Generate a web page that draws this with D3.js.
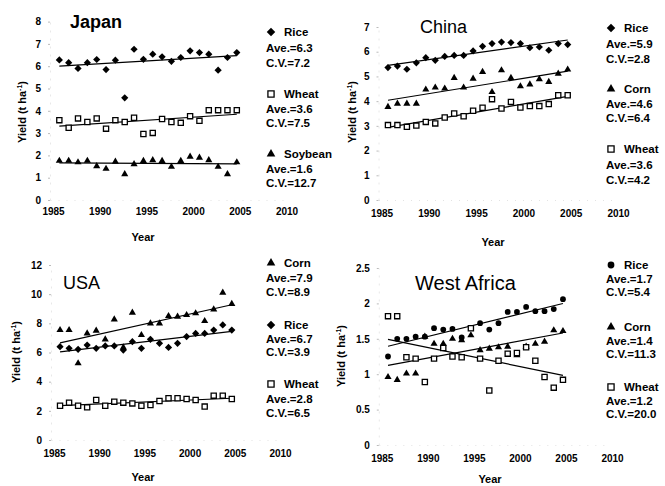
<!DOCTYPE html>
<html>
<head>
<meta charset="utf-8">
<script src="https://cdn.jsdelivr.net/npm/d3@7"></script>
<style>
  body { margin: 0; background: #fff; }
  text { font-family: "Liberation Sans", Arial, sans-serif; fill: #000; }
</style>
</head>
<body>
<svg id="chart" width="665" height="486"></svg>
<script>
// Crop yields (t/ha), 1986–2005
const years = [1986, 1987, 1988, 1989, 1990, 1991, 1992, 1993, 1994, 1995,
               1996, 1997, 1998, 1999, 2000, 2001, 2002, 2003, 2004, 2005];

const japanRice    = [6.28, 6.16, 5.90, 6.16, 6.30, 5.85, 6.27, 4.58, 6.76, 6.31,
                      6.54, 6.42, 6.22, 6.39, 6.69, 6.61, 6.54, 5.82, 6.39, 6.61];
const japanWheat   = [3.58, 3.24, 3.66, 3.50, 3.66, 3.20, 3.58, 3.50, 3.69, 2.96,
                      3.01, 3.63, 3.50, 3.46, 3.76, 3.55, 4.03, 4.03, 4.03, 4.03];
const japanSoybean = [1.76, 1.76, 1.69, 1.76, 1.52, 1.40, 1.72, 1.16, 1.61, 1.75,
                      1.79, 1.75, 1.49, 1.75, 1.94, 1.90, 1.79, 1.49, 1.16, 1.69];

const chinaRice  = [5.36, 5.42, 5.29, 5.55, 5.76, 5.65, 5.81, 5.85, 5.85, 6.03,
                    6.22, 6.33, 6.39, 6.37, 6.33, 6.16, 6.19, 6.06, 6.33, 6.29];
const chinaCorn  = [3.77, 3.90, 3.90, 3.90, 4.47, 4.55, 4.51, 4.94, 4.55, 4.91,
                    5.18, 4.37, 5.25, 4.94, 4.60, 4.68, 4.89, 4.78, 5.11, 5.28];
const chinaWheat = [3.03, 3.03, 2.96, 3.01, 3.16, 3.10, 3.34, 3.50, 3.39, 3.61,
                    3.73, 4.08, 3.70, 3.97, 3.74, 3.80, 3.80, 3.88, 4.24, 4.24];

const usaCorn  = [7.54, 7.54, 5.26, 7.31, 7.50, 6.90, 8.27, 6.35, 8.73, 7.20,
                  8.00, 8.00, 8.50, 8.46, 8.57, 8.69, 8.16, 8.96, 10.10, 9.33];
const usaRice  = [6.40, 6.29, 6.22, 6.51, 6.29, 6.45, 6.45, 6.17, 6.74, 6.29,
                  6.90, 6.63, 6.35, 6.63, 7.09, 7.31, 7.31, 7.54, 7.89, 7.54];
const usaWheat = [2.35, 2.56, 2.35, 2.24, 2.74, 2.35, 2.63, 2.56, 2.51, 2.35,
                  2.40, 2.67, 2.86, 2.86, 2.81, 2.74, 2.29, 3.04, 3.04, 2.81];

const waRice  = [1.25, 1.50, 1.50, 1.53, 1.53, 1.65, 1.63, 1.64, 1.52, 1.65,
                 1.72, 1.63, 1.72, 1.88, 1.88, 1.95, 1.89, 1.89, 1.92, 2.06];
const waCorn  = [0.96, 0.92, 1.01, 1.01, 1.53, 1.43, 1.43, 1.50, 1.48, 1.55,
                 1.34, 1.36, 1.38, 1.39, 1.27, 1.39, 1.43, 1.46, 1.62, 1.61];
const waWheat = [1.82, 1.82, 1.24, 1.22, 0.89, 1.22, 1.37, 1.25, 1.24, 1.65,
                 1.22, 0.77, 1.19, 1.29, 1.30, 1.38, 1.19, 0.96, 0.81, 0.92];

// Axis ticks
const xTicks = [1985, 1990, 1995, 2000, 2005, 2010];
const japanYTicks = [0, 1, 2, 3, 4, 5, 6, 7, 8];
const chinaYTicks = [0, 1, 2, 3, 4, 5, 6, 7];
const usaYTicks   = [0, 2, 4, 6, 8, 10, 12];
const waYTicks    = [0, 0.5, 1, 1.5, 2, 2.5];

// Legend statistics
const japanStats = [["Rice", "6.3", "7.2"], ["Wheat", "3.6", "7.5"], ["Soybean", "1.6", "12.7"]];
const chinaStats = [["Rice", "5.9", "2.8"], ["Corn", "4.6", "6.4"], ["Wheat", "3.6", "4.2"]];
const usaStats   = [["Corn", "7.9", "8.9"], ["Rice", "6.7", "3.9"], ["Wheat", "2.8", "6.5"]];
const waStats    = [["Rice", "1.7", "5.4"], ["Corn", "1.4", "11.3"], ["Wheat", "1.2", "20.0"]];

// Panel layout
const panels = [
  { title: "Japan", titleX: 70, titleY: 28, titleSize: 18, titleWeight: "bold",
    xr: [50, 283.5], yr: [200, 21.6], yMax: 8, yTicks: japanYTicks,
    series: [{ v: japanRice, m: "diamond" }, { v: japanWheat, m: "square" }, { v: japanSoybean, m: "triangle" }],
    stats: japanStats, legX: 266, legY: [32, 94, 154], gap: [16, 15, 15],
    xLabY: 219, yearX: 143, yearY: 241, ylabX: 26, ylabY: 112 },
  { title: "China", titleX: 420, titleY: 33, titleSize: 18, titleWeight: "normal",
    xr: [378.5, 615], yr: [200, 27], yMax: 7, yTicks: chinaYTicks,
    series: [{ v: chinaRice, m: "diamond" }, { v: chinaCorn, m: "triangle" }, { v: chinaWheat, m: "square" }],
    stats: chinaStats, legX: 606, legY: [28, 89, 149], gap: [16, 15, 16],
    xLabY: 221, yearX: 493, yearY: 246, ylabX: 356, ylabY: 112 },
  { title: "USA", titleX: 63, titleY: 289, titleSize: 18, titleWeight: "normal",
    xr: [51, 277], yr: [440, 265], yMax: 12, yTicks: usaYTicks,
    series: [{ v: usaCorn, m: "triangle" }, { v: usaRice, m: "diamond" }, { v: usaWheat, m: "square" }],
    stats: usaStats, legX: 266, legY: [263, 325, 384], gap: [15, 14, 15],
    xLabY: 461, yearX: 143, yearY: 481, ylabX: 20, ylabY: 352 },
  { title: "West Africa", titleX: 415, titleY: 290, titleSize: 20, titleWeight: "normal",
    xr: [378.8, 609], yr: [445, 268], yMax: 2.5, yTicks: waYTicks,
    series: [{ v: waRice, m: "circle" }, { v: waCorn, m: "triangle" }, { v: waWheat, m: "square" }],
    stats: waStats, legX: 606, legY: [265, 327, 387], gap: [14, 14, 14],
    xLabY: 466, yearX: 490, yearY: 483, ylabX: 345, ylabY: 356 }
];

const svg = d3.select("#chart");

function markerPath(m, size) {
  if (m === "diamond" || m === "square") return d3.symbol(d3.symbolSquare, size)();
  if (m === "triangle") return d3.symbol(d3.symbolTriangle, size)();
  return d3.symbol(d3.symbolCircle, size)();
}

function drawMarker(g, m, x, y, big) {
  const sizes = big ? { diamond: 36, square: 38, triangle: 32, circle: 36 }
                    : { diamond: 26, square: 27, triangle: 22, circle: 26 };
  const p = g.append("path")
    .attr("d", markerPath(m, sizes[m]))
    .attr("transform", `translate(${x},${y})` + (m === "diamond" ? " rotate(45)" : ""));
  if (m === "square") p.attr("fill", "#fff").attr("stroke", "#000").attr("stroke-width", 1.3);
  else p.attr("fill", "#000");
}

function linearFit(xs, ys) {
  const mx = d3.mean(xs), my = d3.mean(ys);
  let sxy = 0, sxx = 0;
  xs.forEach((x, i) => { sxy += (x - mx) * (ys[i] - my); sxx += (x - mx) * (x - mx); });
  const b = sxy / sxx;
  return x => my + b * (x - mx);
}

panels.forEach(p => {
  const x = d3.scaleLinear().domain([1985, 2010]).range(p.xr);
  const y = d3.scaleLinear().domain([0, p.yMax]).range(p.yr);
  const g = svg.append("g");

  // Very faint dotted axes
  const ax = g.append("g")
    .attr("transform", `translate(${p.xr[0]},0)`)
    .call(d3.axisLeft(y).tickValues(p.yTicks).tickSize(2).tickSizeOuter(0).tickFormat(d => String(d)));
  ax.select(".domain").attr("stroke", "#e2e2e2").attr("stroke-dasharray", "2,6").attr("stroke-width", 0.8);
  ax.selectAll(".tick line").attr("stroke", "#aaa").attr("stroke-width", 0.8);
  ax.selectAll(".tick text")
    .attr("x", -9)
    .style("font-family", "'Liberation Sans', Arial, sans-serif")
    .style("font-size", "10px").style("font-weight", "bold").attr("fill", "#000");

  const bx = g.append("g")
    .attr("transform", `translate(0,${p.yr[0]})`)
    .call(d3.axisBottom(x).tickValues(xTicks).tickSize(0).tickFormat(d3.format("d")));
  bx.select(".domain").attr("stroke", "#dcdcdc").attr("stroke-dasharray", "1,7").attr("stroke-width", 0.8);
  bx.selectAll(".tick text")
    .attr("y", p.xLabY - p.yr[0] - 4).attr("dy", 0).attr("dx", 3)
    .style("font-family", "'Liberation Sans', Arial, sans-serif")
    .style("font-size", "10px").style("font-weight", "bold").attr("fill", "#000");

  // Axis titles
  g.append("text").attr("x", p.yearX).attr("y", p.yearY).attr("text-anchor", "middle")
    .style("font-size", "11px").style("font-weight", "bold").text("Year");
  const yl = g.append("text")
    .attr("transform", `translate(${p.ylabX},${p.ylabY}) rotate(-90)`)
    .attr("text-anchor", "middle")
    .style("font-size", "11px").style("font-weight", "bold");
  yl.append("tspan").text("Yield (t ha");
  yl.append("tspan").attr("dy", -4).style("font-size", "7px").text("-1");
  yl.append("tspan").attr("dy", 4).text(")");

  // Panel title
  g.append("text").attr("x", p.titleX).attr("y", p.titleY)
    .style("font-size", p.titleSize + "px").style("font-weight", p.titleWeight).text(p.title);

  // Series: trend lines and points
  p.series.forEach(s => {
    const f = linearFit(years, s.v);
    g.append("line")
      .attr("x1", x(years[0])).attr("y1", y(f(years[0])))
      .attr("x2", x(years[years.length - 1])).attr("y2", y(f(years[years.length - 1])))
      .attr("stroke", "#000").attr("stroke-width", 1.2);
  });
  p.series.forEach(s => {
    s.v.forEach((v, i) => drawMarker(g, s.m, x(years[i]), y(v), false));
  });

  // Legend with averages and coefficients of variation
  p.stats.forEach((st, i) => {
    const cy = p.legY[i];
    drawMarker(g, p.series[i].m, p.legX + 5, cy, true);
    g.append("text").attr("x", p.legX + 18).attr("y", cy + 4)
      .style("font-size", "11.5px").style("font-weight", "bold").text(st[0]);
    g.append("text").attr("x", p.legX).attr("y", cy + p.gap[i] + 4)
      .style("font-size", "11.5px").style("font-weight", "bold").text("Ave.=" + st[1]);
    g.append("text").attr("x", p.legX).attr("y", cy + 2 * p.gap[i] + 3)
      .style("font-size", "11.5px").style("font-weight", "bold").text("C.V.=" + st[2]);
  });
});
</script>
</body>
</html>
